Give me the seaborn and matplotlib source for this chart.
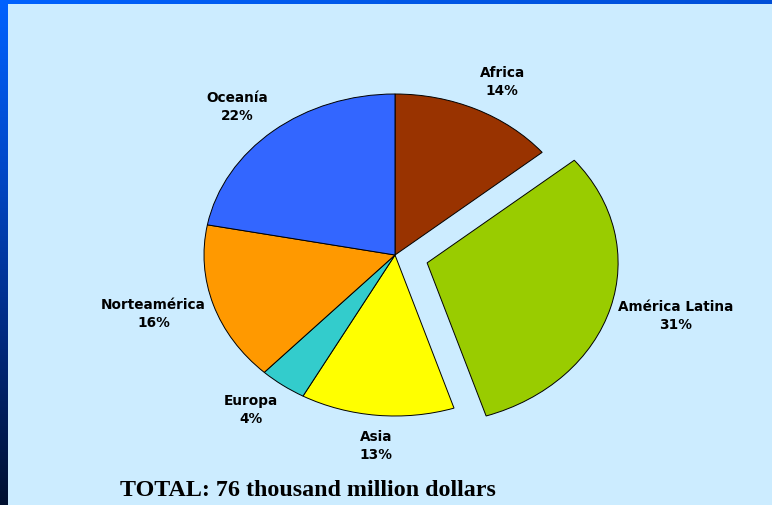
import numpy as np
import matplotlib
matplotlib.use("Agg")
import matplotlib.pyplot as plt
import seaborn as sns

regions = ["Africa", "América Latina", "Asia", "Europa", "Norteamérica", "Oceanía"]
shares = [14, 31, 13, 4, 16, 22]
colors = ["#993300", "#99CC00", "#FFFF00", "#33CCCC", "#FF9900", "#3366FF"]
explode = [0, 0.175, 0, 0, 0, 0]
total_text = "TOTAL: 76 thousand million dollars"

sns.set_theme(style="white")
plt.rcParams["font.family"] = ["DejaVu Sans"]

W, H, DPI = 772, 505, 100
fig = plt.figure(figsize=(W / DPI, H / DPI), dpi=DPI)
fig.patch.set_facecolor("#CCECFF")

# slide frame: gradient strip on the left, blue strip on top
frame = fig.add_axes([0, 0, 1, 1], zorder=0)
frame.set_xlim(0, W)
frame.set_ylim(H, 0)
frame.axis("off")
grad = np.linspace(0, 1, 256).reshape(-1, 1)
left_cmap = matplotlib.colors.LinearSegmentedColormap.from_list(
    "frame_left", ["#0062FF", "#0048C8", "#002A80", "#001030"])
frame.imshow(grad, cmap=left_cmap, extent=[0, 8, H, 0], aspect="auto")
top_cmap = matplotlib.colors.LinearSegmentedColormap.from_list(
    "frame_top", ["#0062FF", "#0058E8", "#004FD8"])
frame.imshow(grad.T, cmap=top_cmap, extent=[0, W, 4, 0], aspect="auto")

# pie axes: unit radius maps to 191 px across and 161 px tall
cx, cy, rx, ry = 395, 255, 191, 161
ax = fig.add_axes([0, 0, 1, 1], zorder=1)
ax.set_facecolor("none")
wedges, _ = ax.pie(
    shares, colors=colors, explode=explode, startangle=90, counterclock=False,
    wedgeprops=dict(edgecolor="black", linewidth=0.7), radius=1.0,
)
ax.set_aspect("auto")
ax.set_xlim(-cx / rx, (W - cx) / rx)
ax.set_ylim(-(H - cy) / ry, cy / ry)
ax.axis("off")

# category labels placed just outside each wedge
for w, name, val, ex in zip(wedges, regions, shares, explode):
    mid = np.deg2rad((w.theta1 + w.theta2) / 2)
    c, s = np.cos(mid), np.sin(mid)
    ox, oy = ex * c, ex * s
    x = ox + 1.04 * c
    y = oy + 1.19 * s
    if abs(c) < 0.3:
        ha = "center"
    else:
        ha = "left" if c > 0 else "right"
    ax.text(x, y, f"{name}\n{val}%", ha=ha, va="center", multialignment="center",
            fontsize=9.8, fontweight="bold", linespacing=1.35, color="black")

fig.text(120 / W, 1 - 496 / H, total_text, ha="left", va="baseline",
         fontsize=17.3, fontweight="bold", family=["Liberation Serif", "DejaVu Serif"],
         color="black")

fig.savefig("out.png", dpi=DPI, facecolor=fig.get_facecolor())
